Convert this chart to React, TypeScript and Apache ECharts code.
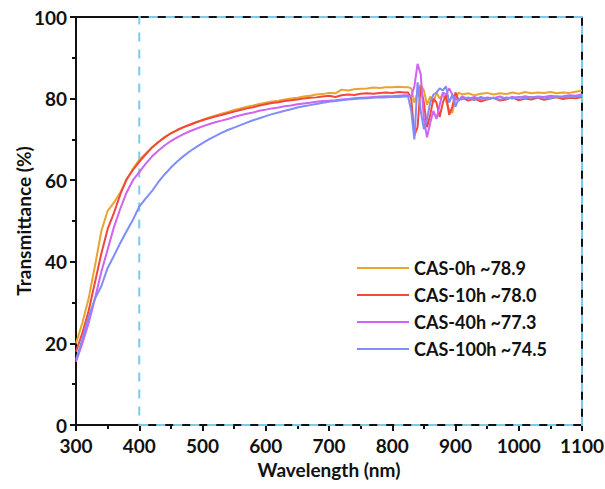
import React, { useEffect, useRef } from "react";
import * as echarts from "echarts";

const wavelengths = [
  300, 310, 320, 330, 340, 350, 360, 370, 380, 390, 400, 410, 420, 430, 440, 450, 460, 470, 480, 490,
  500, 510, 520, 530, 540, 550, 560, 570, 580, 590, 600, 610, 620, 630, 640, 650, 660, 670, 680, 690,
  700, 710, 720, 730, 740, 750, 760, 770, 780, 790, 800, 810, 820,
  825, 830, 835, 840, 845, 850, 855, 860, 865, 870, 875, 880, 885, 890, 895, 900, 905,
  910, 920, 930, 940, 950, 960, 970, 980, 990, 1000, 1010, 1020, 1030, 1040, 1050, 1060, 1070, 1080, 1090, 1100,
];

const cas0h = [
  20, 25, 31, 39, 47.5, 52.5, 54.5, 57, 60, 62.8, 65, 66.5, 68, 69.3, 70.5, 71.5, 72.3, 73, 73.6, 74.2,
  74.8, 75.3, 75.8, 76.3, 76.7, 77.2, 77.6, 78, 78.3, 78.7, 79, 79.3, 79.5, 79.8, 80, 80.2, 80.5, 80.7, 81, 81.1,
  81.4, 81.3, 82.2, 82, 82.3, 82.4, 82.5, 82.7, 82.6, 82.8, 82.8, 82.9, 82.8,
  82.8, 82.5, 79, 81.5, 83.5, 82, 78.5, 80.5, 79, 81.5, 80, 81, 79.5, 77, 76.5, 80, 81.5,
  81, 81.3, 80.8, 81.2, 81.4, 81, 81.3, 81.1, 81.5, 81.2, 81.6, 81.3, 81.5, 81.4, 81.6, 81.3, 81.5, 81.4, 81.7, 82,
];

const cas10h = [
  18, 22.5, 28, 35, 42, 48, 52, 56.5, 60.3, 62.5, 64.5, 66.3, 68, 69.3, 70.5, 71.5, 72.3, 73, 73.6, 74.2,
  74.7, 75.2, 75.6, 76, 76.4, 76.8, 77.2, 77.6, 77.9, 78.3, 78.6, 78.9, 79.1, 79.4, 79.6, 79.8, 80, 80.2, 80.3, 80.5,
  80.7, 80.4, 80.8, 81, 80.9, 81.2, 81.3, 81.2, 81.4, 81.5, 81.4, 81.6, 81.5,
  81.5, 80, 71, 73, 83, 79, 73, 76, 80, 79, 75.5, 79, 81, 76, 78, 81.5, 79.5,
  80.3, 79.5, 80, 79.3, 79.8, 80.2, 79.5, 79.8, 80.3, 79.6, 80, 79.8, 80.2, 79.7, 80, 80.3, 79.9, 80.2, 80.1, 80.4,
];

const cas40h = [
  15.5, 20, 25, 31, 37.5, 43, 48.5, 53, 57, 60, 62, 64, 65.8, 67.2, 68.5, 69.6, 70.5, 71.3, 72, 72.6,
  73.2, 73.7, 74.2, 74.6, 75, 75.5, 75.9, 76.3, 76.6, 77, 77.3, 77.6, 77.8, 78.1, 78.3, 78.6, 78.8, 79, 79.2, 79.4,
  79.5, 79.6, 79.8, 79.9, 80.1, 80.2, 80.3, 80.4, 80.5, 80.6, 80.6, 80.7, 80.8,
  80.8, 80.5, 83, 88.5, 86, 75, 70.5, 74, 77, 75, 78.5, 81.5, 81, 82.5, 81, 80, 79.5,
  80.5, 80, 80.4, 79.8, 80.3, 80.1, 80.5, 80, 80.4, 80.2, 80.6, 80.3, 80.5, 80.4, 80.7, 80.5, 80.6, 80.8, 80.7, 81,
];

const cas100h = [
  16, 21, 26.5, 31, 34, 38.5, 41.5, 44.6, 47.5, 50.3, 53.5, 55.5, 57.3, 59.5, 61.4, 63.1, 64.6, 65.9, 67.1, 68.1,
  69.1, 70, 70.8, 71.6, 72.3, 72.9, 73.5, 74.1, 74.7, 75.2, 75.7, 76.2, 76.6, 77, 77.4, 77.8, 78.1, 78.4, 78.7, 79,
  79.2, 79.4, 79.6, 79.8, 79.9, 80, 80.1, 80.2, 80.3, 80.3, 80.4, 80.4, 80.5,
  80.5, 77, 70, 84, 77, 72.5, 75, 79, 81, 81.5, 82.5, 82, 83, 79, 81, 78, 80,
  79.8, 80.3, 79.6, 80.4, 79.9, 80.2, 79.7, 80.3, 80, 80.4, 80.1, 80.4, 80.2, 80.3, 80.1, 80.5, 80.3, 80.4, 80.5, 80.6,
];

const seriesNames = ["CAS-0h ~78.9", "CAS-10h ~78.0", "CAS-40h ~77.3", "CAS-100h ~74.5"];
const seriesColors = ["#E9A42E", "#F2473B", "#CF63F2", "#7F8DF7"];
const seriesValues = [cas0h, cas10h, cas40h, cas100h];

const FONT = "Lato, 'Open Sans', sans-serif";

export default function App() {
  const ref = useRef<HTMLDivElement>(null);
  useEffect(() => {
    if (!ref.current) return;
    const chart = echarts.init(ref.current, null, { renderer: "svg" });
    const series: any[] = seriesValues.map((vals, i) => ({
      name: seriesNames[i],
      type: "line",
      data: wavelengths.map((w, j) => [w, vals[j]]),
      showSymbol: false,
      lineStyle: { color: seriesColors[i], width: 2 },
      itemStyle: { color: seriesColors[i] },
      z: 3,
    }));
    series[0].markArea = {
      silent: true,
      data: [[{ xAxis: 400, yAxis: 0 }, { xAxis: 1100, yAxis: 100 }]],
      itemStyle: {
        color: "rgba(0,0,0,0)",
        borderColor: "#7CCBEA",
        borderWidth: 2,
        borderType: [9, 8],
      },
    };
    const labelStyle = { fontFamily: FONT, fontWeight: "bold", fontSize: 19, color: "#111" };
    chart.setOption({
      animation: false,
      backgroundColor: "#ffffff",
      grid: {
        left: 76,
        right: 23,
        top: 17,
        bottom: 64,
        outerBoundsMode: "none",
        containLabel: false,
        show: true,
        borderColor: "#111",
        borderWidth: 2,
        backgroundColor: "transparent",
      },
      legend: {
        orient: "vertical",
        left: 352,
        top: 254,
        itemWidth: 52,
        itemHeight: 2,
        itemGap: 9,
        icon: "rect",
        textStyle: { fontFamily: FONT, fontWeight: "bold", fontSize: 18, color: "#111" },
        data: seriesNames,
      },
      xAxis: {
        type: "value",
        min: 300,
        max: 1100,
        interval: 100,
        name: "Wavelength (nm)",
        nameLocation: "middle",
        nameGap: 35,
        nameMoveOverlap: false,
        nameTextStyle: { fontFamily: FONT, fontWeight: "bold", fontSize: 19, color: "#111" },
        axisLine: { show: true, onZero: false, lineStyle: { color: "#111", width: 2 } },
        axisTick: { show: true, inside: false, length: 6, lineStyle: { color: "#111", width: 2 } },
        minorTick: { show: true, splitNumber: 2, length: 4, lineStyle: { color: "#111", width: 2 } },
        axisLabel: { ...labelStyle, margin: 11, formatter: (v: number) => String(v) },
        splitLine: { show: false },
      },
      yAxis: {
        type: "value",
        min: 0,
        max: 100,
        interval: 20,
        name: "Transmittance (%)",
        nameLocation: "middle",
        nameGap: 43,
        nameMoveOverlap: false,
        nameTextStyle: { fontFamily: FONT, fontWeight: "bold", fontSize: 19, color: "#111" },
        axisLine: { show: true, onZero: false, lineStyle: { color: "#111", width: 2 } },
        axisTick: { show: true, inside: false, length: 6, lineStyle: { color: "#111", width: 2 } },
        minorTick: { show: true, splitNumber: 2, length: 4, lineStyle: { color: "#111", width: 2 } },
        axisLabel: { ...labelStyle, margin: 9, formatter: (v: number) => String(v) },
        splitLine: { show: false },
      },
      series,
    });
    return () => chart.dispose();
  }, []);
  return (
    <div
      ref={ref}
      style={{ position: "fixed", left: 0, top: 0, width: 605, height: 489 }}
    />
  );
}
